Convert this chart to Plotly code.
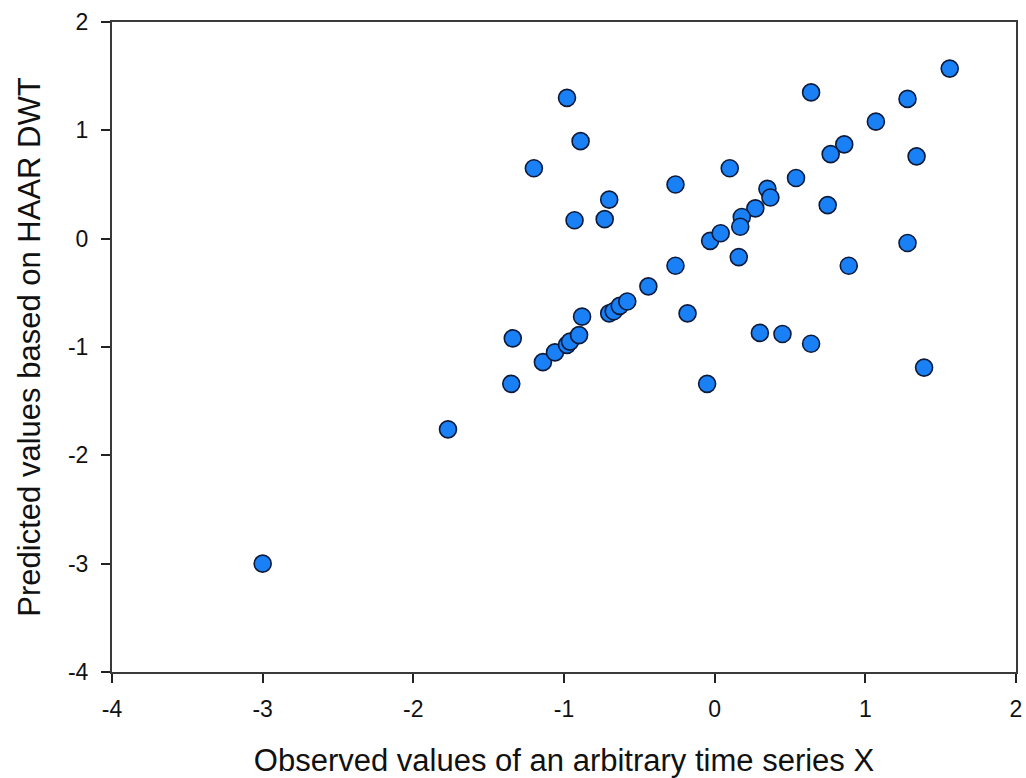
import plotly.graph_objects as go

# Observed values of series X and the values predicted from the HAAR DWT reconstruction
obs_x = [-3.00, -1.77, -1.34, -1.35, -1.14, -1.06, -0.98, -0.96, -0.90, -0.88,
         -0.70, -0.67, -0.63, -0.58, -0.44, -0.18, -0.05, 0.30, 0.45, 0.64,
         -0.98, -0.89, -1.20, 0.10, -0.26, -0.70, -0.93, -0.73, -0.03, 0.04,
         -0.26, 1.56, 0.64, 1.28, 1.07, 0.86, 0.77, 1.34, 0.54, 0.35,
         0.37, 0.75, 0.27, 0.18, 0.17, 0.16, 1.28, 0.89, 1.39]
pred_y = [-3.00, -1.76, -0.92, -1.34, -1.14, -1.05, -0.98, -0.95, -0.89, -0.72,
          -0.69, -0.67, -0.62, -0.58, -0.44, -0.69, -1.34, -0.87, -0.88, -0.97,
          1.30, 0.90, 0.65, 0.65, 0.50, 0.36, 0.17, 0.18, -0.02, 0.05,
          -0.25, 1.57, 1.35, 1.29, 1.08, 0.87, 0.78, 0.76, 0.56, 0.46,
          0.38, 0.31, 0.28, 0.20, 0.11, -0.17, -0.04, -0.25, -1.19]

tick_vals = [-4, -3, -2, -1, 0, 1, 2]
tick_text = ["-4", "-3", "-2", "-1", "0", "1", "2"]

fig = go.Figure(
    go.Scatter(
        x=obs_x,
        y=pred_y,
        mode="markers",
        marker=dict(size=17, color="#1a80f5",
                    line=dict(color="#0d1a3a", width=1.6)),
        showlegend=False,
    )
)

font_family = "Liberation Sans, Arial, sans-serif"

axis_common = dict(
    showline=True, linecolor="#3a3a3a", linewidth=2, mirror=True,
    ticks="outside", ticklen=9, tickwidth=1.5, tickcolor="#222222",
    showgrid=False, zeroline=False, automargin=False,
    tickvals=tick_vals, ticktext=tick_text, range=[-4, 2],
    tickfont=dict(family=font_family, size=23, color="#111111"),
)

fig.update_xaxes(
    title=dict(text="Observed values of an arbitrary time series X",
               font=dict(family=font_family, size=31, color="#111111"),
               standoff=30),
    ticklabelstandoff=6,
    **axis_common,
)
fig.update_yaxes(
    title=dict(text="Predicted values based on HAAR DWT",
               font=dict(family=font_family, size=31, color="#111111"),
               standoff=18),
    ticklabelstandoff=8,
    **axis_common,
)

fig.update_layout(
    width=1026, height=778,
    margin=dict(l=112, r=10, t=22, b=106),
    plot_bgcolor="white", paper_bgcolor="white",
)

fig.write_html("out.html")
